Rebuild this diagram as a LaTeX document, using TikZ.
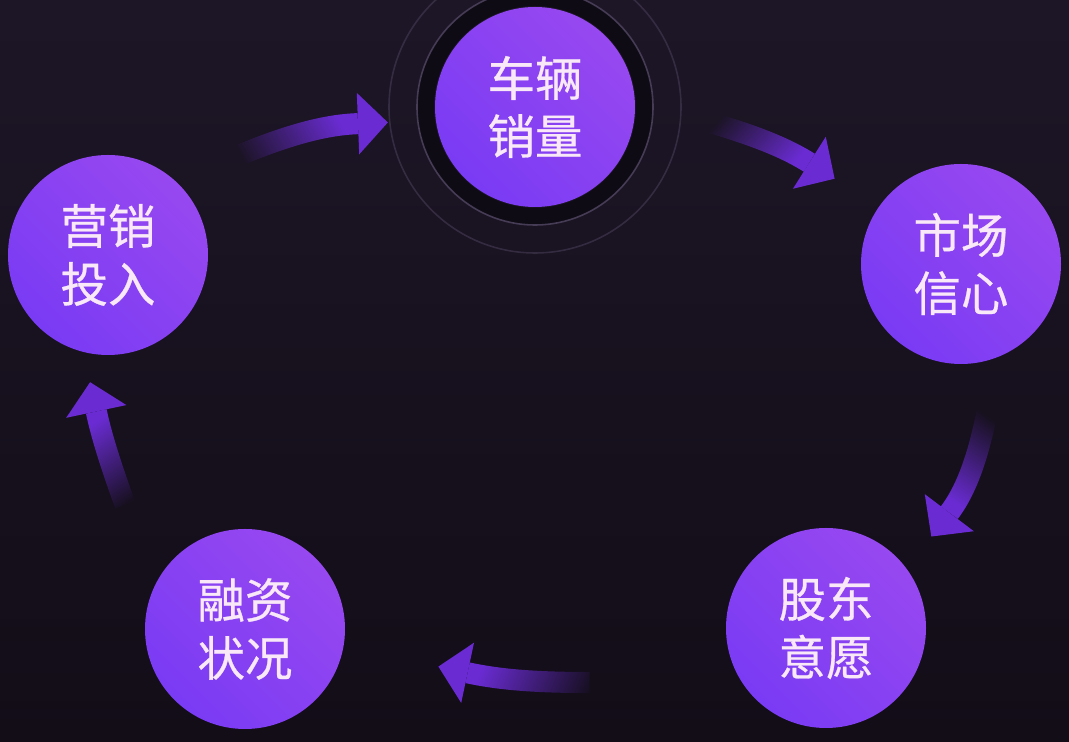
\documentclass[tikz,border=0pt]{standalone}
\usepackage{fontspec}
\newfontfamily\cjk{Noto Sans CJK SC}[FakeBold=0.6]
\usepackage{xcolor}
\usepackage{tikz}
\usetikzlibrary{arrows.meta, positioning, calc, fadings}

\definecolor{bgtop}{HTML}{1D1627}
\definecolor{bgbot}{HTML}{120D17}
\definecolor{orbL}{HTML}{9748F0}
\definecolor{orbR}{HTML}{7A3BF4}
\definecolor{flowc}{HTML}{6A2CD2}
\definecolor{ringc}{HTML}{463C55}
\definecolor{haloc}{HTML}{0F0B15}
\definecolor{labelc}{HTML}{F8E8F8}

% tail of each arrow fades into the background
\pgfdeclarehorizontalshading{tailshade}{100bp}{color(0bp)=(black); color(25bp)=(black); color(60bp)=(white); color(100bp)=(white)}
\pgfdeclarefading{tailfade}{\pgfuseshading{tailshade}}

\begin{document}
\begin{tikzpicture}[
    orb/.style={circle, minimum size=4cm, inner sep=0pt, left color=orbL, right color=orbR, shading angle=-45, text=labelc, align=center, font=\cjk\fontsize{27}{33}\selectfont},
    flow/.style={draw=flowc, line width=12pt, -{Triangle[width=35pt, length=17pt, line width=0pt]}, path fading=tailfade},
    ring/.style={draw=ringc, line width=0.9pt}
]
    \shade[top color=bgtop, bottom color=bgbot] (0,0) rectangle (21.38,14.84);
    \useasboundingbox (0,0) rectangle (21.38,14.84);

    \node[orb] (sales) at (10.70,12.70) {车辆\\销量};
    \node[orb] (invest) at (2.16,9.74) {营销\\投入};
    \node[orb] (confidence) at (19.22,9.56) {市场\\信心};
    \node[orb] (holders) at (16.52,2.28) {股东\\意愿};
    \node[orb] (funding) at (4.90,2.26) {融资\\状况};

    % halo round the sales node
    \fill[haloc, even odd rule] (sales) circle[radius=2.36] circle[radius=2.02];
    \draw[ring] (sales) circle[radius=2.36];
    \draw[ring, opacity=0.6] (sales) circle[radius=2.92];

    \draw[flow, fading angle=10] ([shift={(37:3.35)}]invest.center) to[bend left=10] ([shift={(186:2.96)}]sales.center);
    \draw[flow, fading angle=-25] ([shift={(-5:3.5)}]sales.center) to[bend left=8] ([shift={(146:3.05)}]confidence.center);
    \draw[flow, fading angle=-110] ([shift={(-80:3.0)}]confidence.center) to[bend left=13] ([shift={(41:2.79)}]holders.center);
    \draw[flow, fading angle=175] ([shift={(193:4.85)}]holders.center) to[bend left=6] ([shift={(-11:3.94)}]funding.center);
    \draw[flow, fading angle=105] ([shift={(134:3.45)}]funding.center) to[bend left=4] ([shift={(262:2.57)}]invest.center);
\end{tikzpicture}
\end{document}
